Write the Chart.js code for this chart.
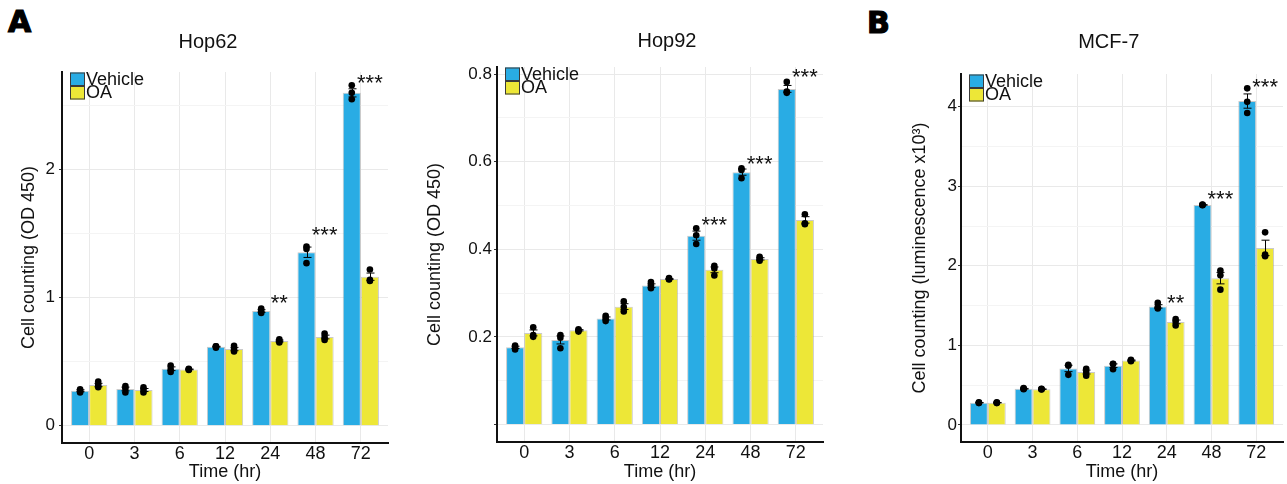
<!DOCTYPE html>
<html>
<head>
<meta charset="utf-8">
<script src="https://cdn.jsdelivr.net/npm/chart.js@4.4.1/dist/chart.umd.min.js"></script>
<style>
html,body{margin:0;padding:0;background:#fff;}
#wrap{position:relative;width:1287px;height:484px;overflow:hidden;background:#fff;}
#wrap canvas{position:absolute;top:0;}
.plabel{position:absolute;font-family:'DejaVu Sans',sans-serif;font-weight:bold;font-size:30px;line-height:30px;color:#000;-webkit-text-stroke:1.2px #000;}
</style>
</head>
<body>
<div id="wrap">
  <div class="plabel" style="left:8px;top:7px">A</div>
  <div class="plabel" style="left:867px;top:8px">B</div>
  <canvas id="cA" width="400" height="484" style="left:0px"></canvas>
  <canvas id="cB" width="453" height="484" style="left:420px"></canvas>
  <canvas id="cC" width="407" height="484" style="left:880px"></canvas>
</div>
<script>
// ---------------- data ----------------
const timeLabels = ['0', '3', '6', '12', '24', '48', '72'];
const seriesNames = ['Vehicle', 'OA'];

// Hop62
const hop62Vehicle = [0.273, 0.287, 0.445, 0.617, 0.896, 1.355, 2.60];
const hop62OA      = [0.318, 0.279, 0.440, 0.599, 0.662, 0.693, 1.164];
const hop62VehicleReps = [[0.26,0.27,0.285],[0.26,0.29,0.31],[0.42,0.44,0.47],[0.61,0.62,0.62],[0.88,0.895,0.915],[1.27,1.38,1.40],[2.55,2.60,2.66]];
const hop62OAReps      = [[0.30,0.32,0.345],[0.26,0.28,0.30],[0.435,0.44,0.445],[0.58,0.60,0.625],[0.65,0.66,0.675],[0.67,0.69,0.72],[1.13,1.14,1.22]];
const hop62Stars  = ['', '', '', '', '**', '***', '***'];
const hop62StarY  = [null, null, null, null, 1.0, 1.53, 2.72];
const hop62YTicks = [0, 1, 2];
const hop62YTickLabels = ['0', '1', '2'];
const hop62YMinor = [0.5, 1.5, 2.5];

// Hop92
const hop92Vehicle = [0.176, 0.193, 0.242, 0.317, 0.431, 0.576, 0.766];
const hop92OA      = [0.209, 0.215, 0.269, 0.332, 0.353, 0.378, 0.467];
const hop92VehicleReps = [[0.171,0.175,0.180],[0.174,0.198,0.204],[0.236,0.242,0.248],[0.311,0.318,0.325],[0.412,0.432,0.448],[0.562,0.581,0.585],[0.757,0.760,0.782]];
const hop92OAReps      = [[0.200,0.204,0.222],[0.212,0.215,0.217],[0.258,0.268,0.281],[0.331,0.332,0.334],[0.340,0.356,0.362],[0.374,0.378,0.383],[0.457,0.459,0.480]];
const hop92Stars  = ['', '', '', '', '***', '***', '***'];
const hop92StarY  = [null, null, null, null, 0.469, 0.607, 0.805];
const hop92YTicks = [0, 0.2, 0.4, 0.6, 0.8];
const hop92YTickLabels = ['', '0.2', '0.4', '0.6', '0.8'];
const hop92YMinor = [0.1, 0.3, 0.5, 0.7];

// MCF-7
const mcf7Vehicle = [0.28, 0.455, 0.71, 0.745, 1.49, 2.765, 4.07];
const mcf7OA      = [0.28, 0.45, 0.665, 0.81, 1.295, 1.845, 2.225];
const mcf7VehicleReps = [[0.275,0.28,0.285],[0.45,0.455,0.465],[0.63,0.745,0.755],[0.70,0.765,0.77],[1.465,1.48,1.535],[2.76,2.765,2.77],[3.92,4.06,4.23]];
const mcf7OAReps      = [[0.275,0.28,0.285],[0.445,0.45,0.455],[0.62,0.665,0.705],[0.80,0.81,0.82],[1.25,1.30,1.33],[1.70,1.88,1.94],[2.12,2.14,2.42]];
const mcf7Stars  = ['', '', '', '', '**', '***', '***'];
const mcf7StarY  = [null, null, null, null, 1.605, 2.906, 4.31];
const mcf7YTicks = [0, 1, 2, 3, 4];
const mcf7YTickLabels = ['0', '1', '2', '3', '4'];
const mcf7YMinor = [0.5, 1.5, 2.5, 3.5];

// ---------------- style ----------------
const FONT = "'Liberation Sans', Arial, Helvetica, sans-serif";
const BLUE = '#29ACE4';
const YELLOW = '#EDE737';
const BAR_EDGE = 'rgba(150,150,150,0.5)';
const GRID_MAJOR = '#E9E9E9';
const GRID_MINOR = '#F4F4F4';
const INK = '#111';
const DODGE = 0.2;      // half of a bar's width, in category units
const STAR_DX = 0.2;

function sem(a) {
  const n = a.length, m = a.reduce((s, v) => s + v, 0) / n;
  const sd = Math.sqrt(a.reduce((s, v) => s + (v - m) * (v - m), 0) / (n - 1));
  return sd / Math.sqrt(n);
}

function buildChart(canvasId, p) {
  const xVals = timeLabels.map((_, i) => i);
  const repPoints = (reps, dx) => {
    const pts = [];
    reps.forEach((r, i) => r.forEach(v => pts.push({x: i + dx, y: v})));
    return pts;
  };
  const means = [p.veh, p.oa];
  const errs = [p.vehReps.map(sem), p.oaReps.map(sem)];

  const deco = {
    id: 'deco_' + canvasId,
    afterDatasetDraw(chart, args) {
      if (args.index > 1) return;
      const ctx = chart.ctx, ys = chart.scales.y;
      const meta = chart.getDatasetMeta(args.index);
      ctx.save();
      ctx.strokeStyle = '#000';
      ctx.lineWidth = 1;
      meta.data.forEach((el, i) => {
        const m = means[args.index][i], e = errs[args.index][i];
        const x = Math.round(el.x) + 0.5;
        const y1 = ys.getPixelForValue(m - e), y2 = ys.getPixelForValue(m + e);
        ctx.beginPath();
        ctx.moveTo(x, y1); ctx.lineTo(x, y2);
        ctx.moveTo(x - 4, y1); ctx.lineTo(x + 4, y1);
        ctx.moveTo(x - 4, y2); ctx.lineTo(x + 4, y2);
        ctx.stroke();
      });
      ctx.restore();
    },
    afterDraw(chart) {
      const ctx = chart.ctx, xs = chart.scales.x, ys = chart.scales.y, area = chart.chartArea;
      ctx.save();
      // significance stars
      ctx.fillStyle = INK;
      ctx.font = '22px ' + FONT;
      ctx.textAlign = 'center';
      ctx.textBaseline = 'alphabetic';
      p.stars.forEach((s, i) => {
        if (!s || p.starY[i] == null) return;
        ctx.fillText(s, xs.getPixelForValue(i + STAR_DX), ys.getPixelForValue(p.starY[i]) + 12.5);
      });
      // legend (inside panel, top-left)
      const lx = Math.round(area.left) + 8, ly = Math.round(area.top) + 0.5;
      const bw = 15, bh = 13.5;
      chart.data.datasets.slice(0, 2).forEach((d, k) => {
        const y0 = ly + k * bh;
        ctx.fillStyle = d.backgroundColor;
        ctx.fillRect(lx, y0, bw, bh);
        ctx.strokeStyle = '#3a3a3a';
        ctx.lineWidth = 1;
        ctx.strokeRect(lx + 0.5, y0 + 0.5, bw - 1, bh - 1);
        ctx.fillStyle = INK;
        ctx.font = '18px ' + FONT;
        ctx.textAlign = 'left';
        ctx.textBaseline = 'middle';
        ctx.fillText(d.label, lx + bw + 1, y0 + bh / 2 + 0.5);
      });
      ctx.restore();
    }
  };

  const allY = p.yTicks.concat(p.yMinor).sort((a, b) => a - b);
  const isMajor = v => p.yTicks.some(t => Math.abs(t - v) < 1e-9);

  const scales = {
    x: {
      type: 'linear', min: -0.6, max: 6.6, offset: false,
      afterBuildTicks: s => { s.ticks = xVals.map(v => ({value: v})); },
      afterFit: s => { s.height = p.xAxisHeight; },
      grid: {offset: false, color: GRID_MAJOR, lineWidth: 1, drawTicks: false},
      border: {display: true, color: INK, width: 2},
      ticks: {font: {family: FONT, size: 18}, color: INK, padding: 0.5, autoSkip: false, maxRotation: 0,
              callback: v => (timeLabels[Math.round(v)] !== undefined ? timeLabels[Math.round(v)] : '')},
      title: {display: true, text: 'Time (hr)', font: {family: FONT, size: 18}, color: INK, padding: {top: 0, bottom: 1}}
    },
    y: {
      type: 'linear', position: 'left', min: p.yMin, max: p.yMax,
      afterBuildTicks: s => { s.ticks = allY.map(v => ({value: v})); },
      afterFit: s => { s.width = p.yAxisWidth; },
      grid: {
        color: c => (c.tick && !isMajor(c.tick.value)) ? GRID_MINOR : GRID_MAJOR,
        tickColor: c => (c.tick && isMajor(c.tick.value)) ? '#333' : 'rgba(0,0,0,0)',
        lineWidth: 1, drawTicks: true, tickLength: 3
      },
      border: {display: true, color: INK, width: 2},
      ticks: {font: {family: FONT, size: 17}, color: INK, padding: p.yTickPad, autoSkip: false,
              callback: v => { const k = p.yTicks.findIndex(t => Math.abs(t - v) < 1e-9); return k >= 0 ? p.yTickLabels[k] : ''; }},
      title: {display: true, text: p.yTitle, font: {family: FONT, size: 18}, color: INK, padding: {top: p.yTitlePad, bottom: 0}}
    }
  };
  if (p.rightPad) {
    scales.pad = {
      type: 'linear', position: 'right', display: true,
      grid: {display: false, drawTicks: false}, ticks: {display: false}, border: {display: false},
      afterFit: s => { s.width = p.rightPad; }
    };
  }

  return new Chart(document.getElementById(canvasId), {
    data: {
      datasets: [
        {type: 'bar', label: seriesNames[0], data: xVals.map(i => ({x: i, y: p.veh[i]})),
         backgroundColor: BLUE, borderColor: BAR_EDGE, borderWidth: 1, categoryPercentage: 0.8, barPercentage: 1.0, order: 2},
        {type: 'bar', label: seriesNames[1], data: xVals.map(i => ({x: i, y: p.oa[i]})),
         backgroundColor: YELLOW, borderColor: BAR_EDGE, borderWidth: 1, categoryPercentage: 0.8, barPercentage: 1.0, order: 2},
        {type: 'scatter', label: seriesNames[0] + ' replicates', data: repPoints(p.vehReps, -DODGE),
         pointRadius: 3.3, pointBackgroundColor: '#000', pointBorderWidth: 0, order: 1},
        {type: 'scatter', label: seriesNames[1] + ' replicates', data: repPoints(p.oaReps, DODGE),
         pointRadius: 3.3, pointBackgroundColor: '#000', pointBorderWidth: 0, order: 1}
      ]
    },
    options: {
      responsive: false, animation: false, devicePixelRatio: 1,
      layout: {padding: {left: p.padL, right: p.padR, top: 0, bottom: 0}},
      plugins: {
        legend: {display: false},
        tooltip: {enabled: false},
        title: {display: true, text: p.title, color: INK, font: {family: FONT, size: 20, weight: 'normal'},
                padding: {top: p.titlePadTop, bottom: p.titlePadBottom}}
      },
      scales
    },
    plugins: [deco]
  });
}

buildChart('cA', {
  title: 'Hop62', yTitle: 'Cell counting (OD 450)',
  veh: hop62Vehicle, oa: hop62OA, vehReps: hop62VehicleReps, oaReps: hop62OAReps,
  stars: hop62Stars, starY: hop62StarY,
  yTicks: hop62YTicks, yTickLabels: hop62YTickLabels, yMinor: hop62YMinor,
  yMin: -0.135, yMax: 2.763,
  padL: 28, padR: 12, yAxisWidth: 34, xAxisHeight: 41, yTickPad: 4, yTitlePad: -9.6,
  titlePadTop: 30.6, titlePadBottom: 17.4, rightPad: 0
});
buildChart('cB', {
  title: 'Hop92', yTitle: 'Cell counting (OD 450)',
  veh: hop92Vehicle, oa: hop92OA, vehReps: hop92VehicleReps, oaReps: hop92OAReps,
  stars: hop92Stars, starY: hop92StarY,
  yTicks: hop92YTicks, yTickLabels: hop92YTickLabels, yMinor: hop92YMinor,
  yMin: -0.040, yMax: 0.816,
  padL: 41, padR: 0, yAxisWidth: 36, xAxisHeight: 42, yTickPad: 2, yTitlePad: -36.8,
  titlePadTop: 29, titlePadBottom: 14, rightPad: 50
});
buildChart('cC', {
  title: 'MCF-7', yTitle: 'Cell counting (luminescence x10³)',
  veh: mcf7Vehicle, oa: mcf7OA, vehReps: mcf7VehicleReps, oaReps: mcf7OAReps,
  stars: mcf7Stars, starY: mcf7StarY,
  yTicks: mcf7YTicks, yTickLabels: mcf7YTickLabels, yMinor: mcf7YMinor,
  yMin: -0.214, yMax: 4.41,
  padL: 51.4, padR: 1, yAxisWidth: 29.6, xAxisHeight: 42, yTickPad: 1, yTitlePad: -21.8,
  titlePadTop: 30.6, titlePadBottom: 19.4, rightPad: 0
});
</script>
</body>
</html>
